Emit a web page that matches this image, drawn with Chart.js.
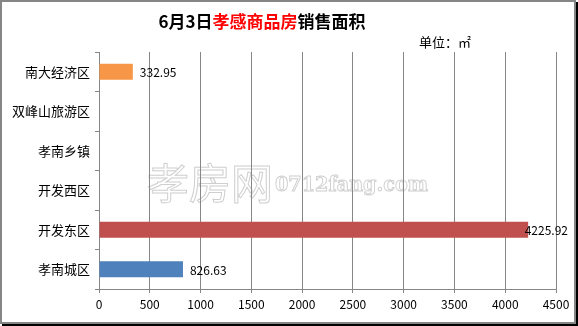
<!DOCTYPE html>
<html><head><meta charset="utf-8">
<script src="https://cdn.jsdelivr.net/npm/chart.js@4.4.1/dist/chart.umd.min.js"></script>
<style>html,body{margin:0;padding:0;background:#fff;}canvas{display:block;}</style>
</head><body>
<canvas id="c" width="578" height="326"></canvas>
<script>
const categories = ['南大经济区','双峰山旅游区','孝南乡镇','开发西区','开发东区','孝南城区'];
const areaValues = [332.95, 0, 0, 0, 4225.92, 826.63];
const barColors = ['#F79646','#4BACC6','#8064A2','#9BBB59','#C0504D','#4F81BD'];
const xTicks = [0,500,1000,1500,2000,2500,3000,3500,4000,4500];
const titleParts = [['6月3日','#000'],['孝感商品房','#FF0000'],['销售面积','#000']];
const unitText = '单位：㎡';
const watermarkCn = '孝房网';
const watermarkEn = '0712fang.com';

const FONT = '"Noto Sans CJK SC", "DejaVu Sans", sans-serif';

const decor = {
  id: 'decor',
  beforeDraw(chart) {
    const ctx = chart.ctx;
    ctx.save();
    ctx.fillStyle = '#fff';
    ctx.fillRect(0,0,578,326);
    // watermark
    ctx.strokeStyle = '#cfcfcf';
    ctx.lineWidth = 1;
    ctx.textBaseline = 'middle';
    ctx.textAlign = 'left';
    ctx.font = '42px ' + FONT;
    ctx.strokeText(watermarkCn, 147, 183);
    ctx.font = 'bold 21px "DejaVu Serif", serif';
    const ew = ctx.measureText(watermarkEn).width;
    ctx.save();
    ctx.translate(275, 186);
    ctx.scale(153 / ew, 1);
    ctx.strokeText(watermarkEn, 0, 0);
    ctx.restore();
    ctx.restore();
  },
  afterDraw(chart) {
    const ctx = chart.ctx;
    ctx.save();
    // title
    ctx.font = 'bold 17px ' + FONT;
    ctx.textBaseline = 'middle';
    let total = 0;
    titleParts.forEach(p => total += ctx.measureText(p[0]).width);
    let x = 262 - total/2;
    titleParts.forEach(p => {
      ctx.fillStyle = p[1];
      ctx.textAlign = 'left';
      ctx.fillText(p[0], x, 22);
      x += ctx.measureText(p[0]).width;
    });
    // unit
    ctx.font = '13px ' + FONT;
    ctx.fillStyle = '#000';
    ctx.fillText(unitText, 419, 42);
    // data labels
    const meta = chart.getDatasetMeta(0);
    ctx.font = '12px ' + FONT;
    ctx.fillStyle = '#000';
    meta.data.forEach((bar, i) => {
      const v = areaValues[i];
      if (!v) return;
      const txt = v.toFixed(2);
      const w = ctx.measureText(txt).width;
      let lx = bar.x + 7;
      if (lx + w > 568) lx = 568 - w;
      ctx.fillText(txt, lx, bar.y + 1);
    });
    // border
    ctx.strokeStyle = '#868686';
    ctx.lineWidth = 2;
    ctx.strokeRect(1, 1, 574, 322);
    ctx.fillStyle = '#000';
    ctx.fillRect(576, 2, 2, 324);
    ctx.fillRect(2, 324, 576, 2);
    ctx.restore();
  }
};

new Chart(document.getElementById('c'), {
  type: 'bar',
  data: {
    labels: categories,
    datasets: [{ data: areaValues, backgroundColor: barColors, barPercentage: 0.41, categoryPercentage: 1 }]
  },
  options: {
    indexAxis: 'y',
    responsive: false,
    animation: false,
    devicePixelRatio: 1,
    layout: { padding: { top: 52, right: 22, left: 0, bottom: 0 } },
    plugins: { legend: { display: false }, tooltip: { enabled: false }, title: { display: false } },
    scales: {
      x: {
        min: 0, max: 4500,
        afterBuildTicks(scale) { scale.ticks = xTicks.map(v => ({ value: v })); },
        afterFit(scale) { scale.height = 37; },
        grid: { color: '#868686', lineWidth: 1, drawTicks: true, tickLength: 4, tickColor: '#868686' },
        border: { color: '#868686', width: 1 },
        ticks: { color: '#000', font: { family: FONT, size: 12 }, padding: 4, maxRotation: 0,
                 callback: (v) => String(v) }
      },
      y: {
        afterFit(scale) { scale.width = 99; },
        grid: { drawOnChartArea: false, drawTicks: true, tickLength: 4, offset: true, tickColor: '#868686' },
        border: { color: '#868686', width: 1 },
        ticks: { color: '#000', font: { family: FONT, size: 13 }, padding: 5 }
      }
    }
  },
  plugins: [decor]
});
</script>
</body></html>
